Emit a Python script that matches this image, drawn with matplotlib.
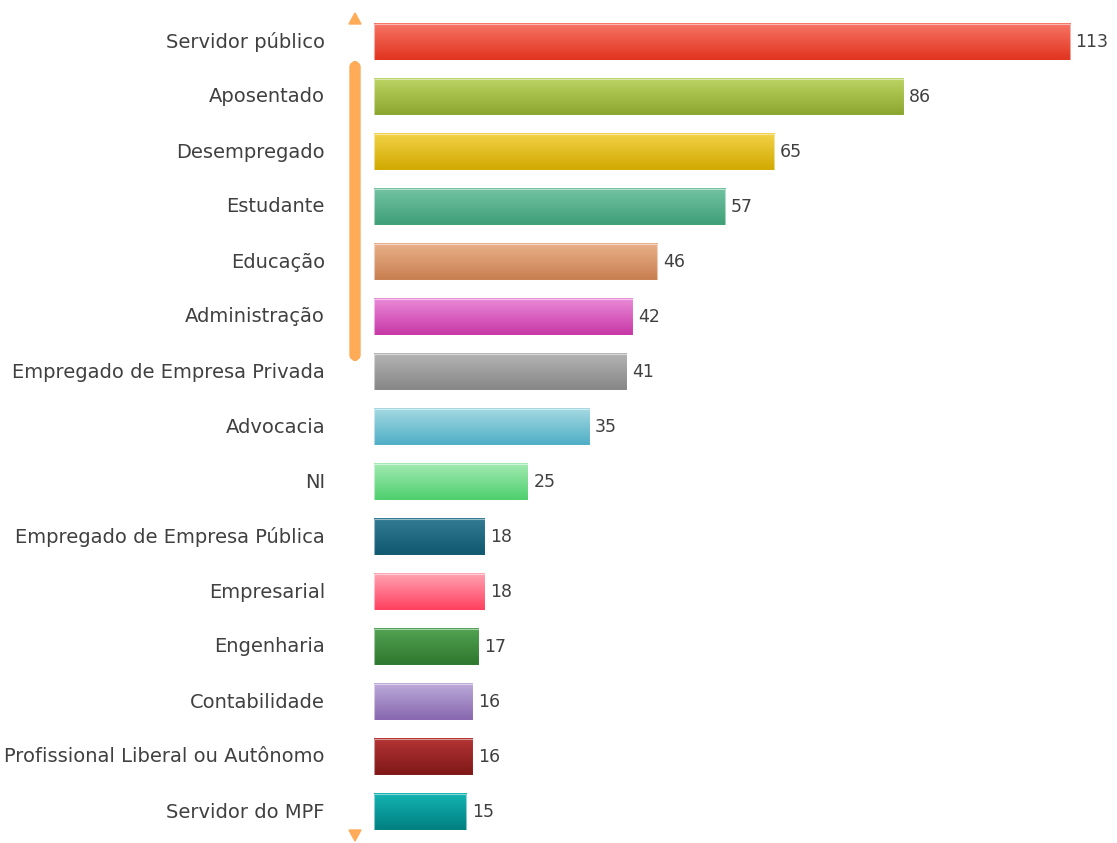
import numpy as np
import matplotlib
matplotlib.use("Agg")
import matplotlib.pyplot as plt
from matplotlib.colors import to_rgb, LinearSegmentedColormap
from matplotlib.patches import FancyBboxPatch, Polygon

plt.rcParams['font.family'] = ['DejaVu Sans']

# Dados
categorias = ["Servidor público", "Aposentado", "Desempregado", "Estudante", "Educação",
              "Administração", "Empregado de Empresa Privada", "Advocacia", "NI",
              "Empregado de Empresa Pública", "Empresarial", "Engenharia", "Contabilidade",
              "Profissional Liberal ou Autônomo", "Servidor do MPF"]
valores = [113, 86, 65, 57, 46, 42, 41, 35, 25, 18, 18, 17, 16, 16, 15]

# Cores (topo, base) do degradê
cores_topo = ["#f87565", "#bcd462", "#f2d247", "#72c3a2", "#e9b08a", "#ea8ad8", "#b4b4b4",
              "#a4d9e2", "#a2eab2", "#337b93", "#ffa3b3", "#52a352", "#bcaad9", "#b43434", "#14b4b4"]
cores_base = ["#e0331f", "#8ba62f", "#d2a900", "#3f9f77", "#c87f4f", "#c737a6", "#868686",
              "#4faec6", "#4ecf6e", "#0f5870", "#ff3f5f", "#2e772e", "#8767af", "#7f1818", "#007f7f"]

fig = plt.figure(figsize=(11.17, 8.43), dpi=100)
W, H = 1117, 843
x0 = 374
escala = 6.16  # pixels por unidade
ax = fig.add_axes([x0 / W, 0, 1 - x0 / W, 1])
ax.set_xlim(0, (W - x0) / escala)
ax.set_ylim((H - 42) / 55, -42 / 55)
ax.axis("off")

altura = 0.67
for i, (v, ct, cb) in enumerate(zip(valores, cores_topo, cores_base)):
    cmap = LinearSegmentedColormap.from_list("g", [to_rgb(ct), to_rgb(cb)])
    grad = np.linspace(0, 1, 64).reshape(-1, 1)
    ax.imshow(grad, cmap=cmap, aspect="auto", interpolation="bilinear",
              extent=(0, v, i + altura / 2, i - altura / 2), zorder=2)
    ax.add_patch(plt.Rectangle((0, i - altura / 2), v, altura, fill=False,
                               edgecolor=(1, 1, 1, 0.5), lw=0.8, zorder=3))
    ax.text(v + 0.9, i, str(v), va="center", ha="left", fontsize=12.5, color="#404040")

for i, c in enumerate(categorias):
    fig.text(325 / W, 1 - (42 + 55 * i) / H, c, ha="right", va="center",
             fontsize=14, color="#404040")

# barra de rolagem
laranja = "#ffab57"
fig.patches.append(FancyBboxPatch((350 / W, 1 - 360 / H), 10 / W, 298 / H,
                                  boxstyle="round,pad=0,rounding_size=0.006",
                                  transform=fig.transFigure, color=laranja, zorder=1))
fig.patches.append(Polygon([[349 / W, 1 - 24 / H], [361 / W, 1 - 24 / H], [355 / W, 1 - 13 / H]],
                           closed=True, transform=fig.transFigure, color=laranja))
fig.patches.append(Polygon([[349 / W, 1 - 830 / H], [361 / W, 1 - 830 / H], [355 / W, 1 - 841 / H]],
                           closed=True, transform=fig.transFigure, color=laranja))

fig.savefig("out.png", dpi=100)
